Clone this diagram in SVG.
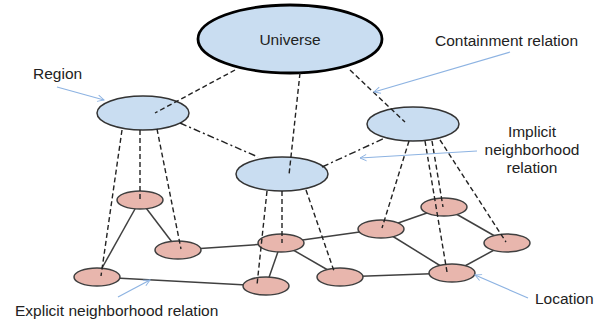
<svg xmlns="http://www.w3.org/2000/svg" width="603" height="324" viewBox="0 0 603 324">
<defs>
<marker id="ah" viewBox="0 0 10 10" refX="9" refY="5" markerWidth="8" markerHeight="8" orient="auto" markerUnits="userSpaceOnUse">
<path d="M1,1 L9,5 L1,9" fill="none" stroke="#8DB3E2" stroke-width="1.2"/>
</marker>
<style>
.region{fill:#C9DDF1;stroke:#333;stroke-width:1.5}
.univ{fill:#C9DDF1;stroke:#000;stroke-width:2.8}
.loc{fill:#E8B6AD;stroke:#404040;stroke-width:1.5}
.solid{stroke:#404040;stroke-width:1.5;fill:none}
.dash{stroke:#222;stroke-width:1.4;stroke-dasharray:5,3;fill:none}
.dashdot{stroke:#222;stroke-width:1.4;stroke-dasharray:7,3,2,3;fill:none}
.ann{stroke:#8DB3E2;stroke-width:1.2;fill:none;marker-end:url(#ah)}
text{font-family:"Liberation Sans",Arial,sans-serif;font-size:15.5px;fill:#222}
</style>
</defs>
<g id="connectors">
<!-- solid explicit neighborhood edges -->
<line class="solid" x1="140" y1="200" x2="97" y2="277"/>
<line class="solid" x1="140" y1="200" x2="178" y2="250"/>
<line class="solid" x1="178" y1="250" x2="281" y2="243"/>
<line class="solid" x1="97" y1="277" x2="266" y2="286"/>
<line class="solid" x1="281" y1="243" x2="266" y2="286"/>
<line class="solid" x1="281" y1="243" x2="340" y2="277"/>
<line class="solid" x1="281" y1="243" x2="381" y2="229"/>
<line class="solid" x1="340" y1="277" x2="452" y2="273"/>
<line class="solid" x1="381" y1="229" x2="444" y2="207"/>
<line class="solid" x1="381" y1="229" x2="452" y2="273"/>
<line class="solid" x1="444" y1="207" x2="507" y2="243"/>
<line class="solid" x1="507" y1="243" x2="452" y2="273"/>
</g>
<g id="n-loc-a"><ellipse class="loc" cx="140" cy="200" rx="23" ry="9"/></g>
<g id="n-loc-b"><ellipse class="loc" cx="178" cy="250" rx="23" ry="9"/></g>
<g id="n-loc-c"><ellipse class="loc" cx="97" cy="277" rx="23" ry="9"/></g>
<g id="n-loc-d"><ellipse class="loc" cx="281" cy="243" rx="23" ry="9"/></g>
<g id="n-loc-e"><ellipse class="loc" cx="266" cy="286" rx="23" ry="9"/></g>
<g id="n-loc-f"><ellipse class="loc" cx="340" cy="277" rx="23" ry="9"/></g>
<g id="n-loc-g"><ellipse class="loc" cx="381" cy="229" rx="23" ry="9"/></g>
<g id="n-loc-h"><ellipse class="loc" cx="444" cy="207" rx="23" ry="9"/></g>
<g id="n-loc-i"><ellipse class="loc" cx="507" cy="243" rx="23" ry="9"/></g>
<g id="n-loc-j"><ellipse class="loc" cx="452" cy="273" rx="23" ry="9"/></g>
<g id="n-region-left"><ellipse class="region" cx="143" cy="113" rx="46" ry="17"/></g>
<g id="n-region-mid"><ellipse class="region" cx="282" cy="174" rx="46" ry="17"/></g>
<g id="n-region-right"><ellipse class="region" cx="413" cy="124" rx="46" ry="17"/></g>
<g id="n-universe">
<ellipse class="univ" cx="290" cy="39" rx="92" ry="34"/>
<text x="290" y="45" text-anchor="middle">Universe</text>
</g>
<g id="connectors-overlay">
<!-- containment (dashed) -->
<line class="dash" x1="235" y1="70" x2="155" y2="113"/>
<line class="dash" x1="300" y1="73" x2="289" y2="175"/>
<line class="dash" x1="350" y1="70" x2="405" y2="122"/>
<line class="dash" x1="122" y1="130" x2="101" y2="276"/>
<line class="dash" x1="140" y1="130" x2="140" y2="199"/>
<line class="dash" x1="157" y1="129" x2="181" y2="249"/>
<line class="dash" x1="267" y1="191" x2="257" y2="285"/>
<line class="dash" x1="282" y1="191" x2="282" y2="243"/>
<line class="dash" x1="306" y1="190" x2="334" y2="271"/>
<line class="dash" x1="409" y1="141" x2="382" y2="228"/>
<line class="dash" x1="425" y1="141" x2="447" y2="272"/>
<line class="dash" x1="432" y1="141" x2="443" y2="207"/>
<line class="dash" x1="440" y1="140" x2="506" y2="242"/>
<!-- implicit neighborhood (dash-dot) -->
<line class="dashdot" x1="180" y1="123" x2="258" y2="157"/>
<line class="dashdot" x1="322" y1="167" x2="385" y2="138"/>
<!-- annotation arrows -->
<line class="ann" x1="57" y1="87" x2="104" y2="100"/>
<line class="ann" x1="510" y1="52" x2="374" y2="92"/>
<line class="ann" x1="477" y1="151" x2="360" y2="158"/>
<line class="ann" x1="528" y1="298" x2="475" y2="275"/>
<line class="ann" x1="118" y1="297" x2="150" y2="280"/>
</g>
<g id="labels">
<text x="33" y="79">Region</text>
<text x="435" y="46">Containment relation</text>
<text x="532" y="137" text-anchor="middle">Implicit</text>
<text x="532" y="155" text-anchor="middle">neighborhood</text>
<text x="532" y="173" text-anchor="middle">relation</text>
<text x="535" y="304">Location</text>
<text x="15" y="316">Explicit neighborhood relation</text>
</g>
</svg>
